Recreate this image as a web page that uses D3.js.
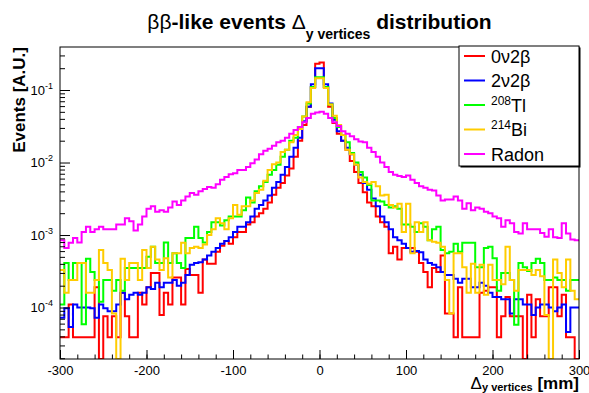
<!DOCTYPE html>
<html>
<head>
<meta charset="utf-8">
<script src="https://cdn.jsdelivr.net/npm/d3@7"></script>
<style>
  body { margin: 0; background: #fff; }
  svg { display: block; font-family: "Liberation Sans", Arial, Helvetica, sans-serif; }
</style>
</head>
<body>
<div id="chart"></div>
<script>
// ROOT-style log histogram: delta y between vertices, 120 bins of 5 mm

const binLow = -300, binWidth = 5;

// 0v2b (red)
const zeroNu = [
  3.9e-5, 3.9e-5, 1.1e-4, 3.9e-5, 3.9e-5, 3.9e-5, 3.9e-5, 3.9e-5, 1.9e-4, 0, 7.6e-5, 3.9e-5, 7.6e-5, 3.9e-5, 1.6e-4, 7.6e-5, 3.9e-5, 3.9e-5, 1.6e-4, 1.1e-4, 1.9e-4, 3.0e-4, 3.0e-4, 7.9e-5,
  1.6e-4, 1.1e-4, 2.6e-4, 2.6e-4, 1.1e-4, 3.4e-4, 2.8e-4, 2.8e-4, 1.6e-4, 4.6e-4, 4.0e-4, 4.0e-4, 5.9e-4, 7.1e-4, 8.3e-4, 7.6e-4, 9.3e-4, 1.1e-3, 1.1e-3, 1.4e-3, 1.5e-3, 1.8e-3, 2.0e-3, 2.3e-3,
  2.8e-3, 3.6e-3, 4.5e-3, 5.2e-3, 6.6e-3, 8.3e-3, 1.2e-2, 2.0e-2, 3.3e-2, 5.9e-2, 0.11, 0.23, 0.24, 0.11, 5.9e-2, 3.5e-2, 2.5e-2, 2.0e-2, 1.5e-2, 1.05e-2, 7.4e-3, 5.2e-3, 3.9e-3, 2.8e-3,
  2.5e-3, 1.8e-3, 1.5e-3, 1.3e-3, 5.6e-4, 6.9e-4, 4.6e-4, 6.6e-4, 6.6e-4, 6.6e-4, 5.9e-4, 4.1e-4, 3.1e-4, 1.9e-4, 3.5e-4, 3.1e-4, 5.2e-4, 8.3e-5, 8.3e-5, 3.9e-5, 1.9e-4, 3.9e-5, 3.9e-5, 3.9e-5,
  3.9e-5, 1.6e-4, 1.7e-4, 1.9e-4, 1.9e-4, 3.9e-5, 7.6e-5, 1.4e-4, 7.6e-5, 7.6e-5, 7.6e-5, 0, 1.5e-4, 3.9e-5, 1.3e-4, 7.6e-5, 7.6e-5, 1.9e-4, 1.9e-4, 7.6e-5, 1.5e-4, 3.9e-5, 3.9e-5, 0
];

// 2v2b (blue)
const twoNu = [
  7.2e-5, 9.8e-5, 5.4e-5, 1.1e-4, 1.0e-4, 1.0e-4, 1.0e-4, 9.8e-5, 7.2e-5, 1.1e-4, 9.8e-5, 8.9e-5, 8.9e-5, 1.1e-4, 1.6e-4, 1.3e-4, 1.5e-4, 1.6e-4, 1.5e-4, 1.6e-4, 1.9e-4, 1.8e-4, 2.2e-4, 1.9e-4,
  2.2e-4, 2.2e-4, 2.4e-4, 2.0e-4, 2.2e-4, 2.8e-4, 3.9e-4, 4.1e-4, 4.2e-4, 4.6e-4, 5.2e-4, 5.9e-4, 6.6e-4, 7.6e-4, 8.3e-4, 9.3e-4, 1.1e-3, 1.3e-3, 1.3e-3, 1.5e-3, 1.8e-3, 2.3e-3, 2.6e-3, 3.0e-3,
  3.5e-3, 4.5e-3, 5.4e-3, 6.8e-3, 8.7e-3, 1.2e-2, 1.6e-2, 2.2e-2, 3.7e-2, 5.9e-2, 0.12, 0.20, 0.20, 0.12, 6.5e-2, 3.9e-2, 2.7e-2, 2.0e-2, 1.6e-2, 1.3e-2, 9.3e-3, 6.8e-3, 5.2e-3, 4.2e-3,
  3.2e-3, 2.5e-3, 1.8e-3, 1.5e-3, 1.2e-3, 9.3e-4, 8.5e-4, 7.6e-4, 6.6e-4, 5.9e-4, 6.0e-4, 5.8e-4, 4.6e-4, 4.1e-4, 3.9e-4, 3.6e-4, 3.1e-4, 2.8e-4, 2.8e-4, 2.5e-4, 2.2e-4, 2.5e-4, 2.5e-4, 1.9e-4,
  1.9e-4, 2.2e-4, 2.0e-4, 1.6e-4, 1.4e-4, 1.4e-4, 1.3e-4, 1.3e-4, 8.3e-5, 1.3e-4, 1.3e-4, 1.1e-4, 1.1e-4, 7.9e-5, 1.0e-4, 1.1e-4, 1.1e-4, 1.0e-4, 8.9e-5, 1.0e-4, 1.1e-4, 4.6e-5, 1.0e-4, 1.0e-4
];

// 208Tl (green)
const tl208 = [
  1.1e-4, 4.1e-4, 2.4e-4, 4.1e-4, 4.1e-4, 5.9e-5, 4.7e-4, 3.1e-4, 2.4e-4, 1.2e-4, 2.4e-4, 2.4e-4, 1.7e-4, 2.4e-4, 1.7e-4, 3.5e-4, 3.5e-4, 3.5e-4, 3.5e-4, 3.5e-4, 5.0e-4, 6.9e-4, 4.1e-4, 4.1e-4,
  7.9e-4, 4.1e-4, 5.6e-4, 4.1e-4, 3.5e-4, 9.1e-4, 9.1e-4, 1.3e-3, 9.1e-4, 7.9e-4, 1.1e-3, 1.5e-3, 1.5e-3, 1.35e-3, 1.6e-3, 1.8e-3, 1.8e-3, 1.8e-3, 2.2e-3, 3.3e-3, 2.8e-3, 4.0e-3, 4.7e-3, 5.4e-3,
  6.8e-3, 7.9e-3, 9.3e-3, 1.2e-2, 1.5e-2, 2.0e-2, 2.2e-2, 3.1e-2, 4.3e-2, 6.5e-2, 0.11, 0.15, 0.15, 0.11, 6.3e-2, 4.1e-2, 3.1e-2, 2.4e-2, 1.9e-2, 1.35e-2, 1.0e-2, 7.4e-3, 6.2e-3, 4.9e-3,
  3.0e-3, 3.0e-3, 2.9e-3, 2.6e-3, 2.4e-3, 2.5e-3, 2.3e-3, 1.4e-3, 1.4e-3, 1.3e-3, 1.1e-3, 1.45e-3, 1.3e-3, 8.5e-4, 1.2e-3, 1.3e-3, 6.2e-4, 5.6e-4, 5.9e-4, 7.6e-4, 5.9e-4, 7.8e-4, 7.8e-4, 7.8e-4,
  3.6e-4, 3.6e-4, 6.6e-4, 6.9e-4, 4.8e-4, 1.7e-4, 3.0e-4, 3.0e-4, 2.4e-4, 5.8e-5, 4.1e-4, 3.6e-4, 3.2e-4, 4.1e-4, 4.7e-4, 4.1e-4, 2.4e-4, 2.4e-4, 2.6e-4, 2.4e-4, 2.4e-4, 1.7e-4, 2.4e-4, 2.4e-4
];

// 214Bi (yellow)
const bi214 = [
  3.3e-4, 1.6e-4, 2.4e-4, 2.4e-4, 4.1e-4, 4.1e-4, 1.6e-4, 1.6e-4, 2.4e-4, 6.2e-4, 4.1e-4, 3.3e-4, 8.3e-5, 0, 4.7e-4, 2.4e-4, 4.1e-4, 4.1e-4, 2.4e-4, 6.2e-4, 3.5e-4, 6.9e-4, 4.6e-4, 3.3e-4,
  4.8e-4, 2.6e-4, 5.6e-4, 5.6e-4, 7.8e-4, 5.6e-4, 6.6e-4, 6.9e-4, 6.6e-4, 7.4e-4, 1.0e-3, 1.2e-3, 1.7e-3, 1.45e-3, 1.2e-3, 1.7e-3, 2.6e-3, 1.9e-3, 2.5e-3, 2.5e-3, 3.0e-3, 3.8e-3, 4.2e-3, 5.6e-3,
  7.9e-3, 9.5e-3, 1.0e-2, 1.4e-2, 1.5e-2, 1.9e-2, 2.4e-2, 2.9e-2, 4.3e-2, 6.8e-2, 0.107, 0.145, 0.145, 0.107, 6.3e-2, 4.4e-2, 3.3e-2, 2.4e-2, 1.5e-2, 1.3e-2, 9.3e-3, 6.2e-3, 5.4e-3, 5.1e-3,
  5.4e-3, 4.7e-3, 3.5e-3, 3.6e-3, 2.6e-3, 2.4e-3, 2.7e-3, 1.1e-3, 2.7e-3, 5.6e-4, 1.5e-3, 1.1e-3, 1.5e-3, 8.5e-4, 8.1e-4, 7.8e-4, 6.9e-4, 2.4e-4, 8.3e-5, 5.6e-4, 5.6e-4, 3.6e-4, 1.6e-4, 4.0e-4,
  1.6e-4, 3.9e-4, 1.5e-4, 3.9e-4, 2.4e-4, 2.4e-4, 2.1e-4, 6.9e-4, 2.4e-4, 1.7e-4, 3.3e-4, 3.3e-4, 3.3e-4, 2.8e-4, 3.3e-4, 2.7e-4, 7.9e-5, 0, 4.6e-4, 3.0e-4, 1.9e-4, 4.6e-4, 1.7e-4, 1.3e-4
];

// Radon (magenta)
const radon = [
  8.5e-4, 6.6e-4, 7.8e-4, 9.1e-4, 7.9e-4, 1.1e-3, 1.3e-3, 1.1e-3, 1.2e-3, 1.3e-3, 1.2e-3, 1.2e-3, 1.2e-3, 1.4e-3, 1.4e-3, 1.7e-3, 1.55e-3, 1.15e-3, 1.4e-3, 1.8e-3, 2.3e-3, 2.5e-3, 2.1e-3, 2.2e-3,
  2.1e-3, 2.4e-3, 2.9e-3, 2.6e-3, 3.0e-3, 3.4e-3, 3.8e-3, 3.6e-3, 4.0e-3, 4.3e-3, 4.6e-3, 4.5e-3, 5.0e-3, 5.8e-3, 6.3e-3, 6.9e-3, 7.1e-3, 7.9e-3, 7.9e-3, 8.7e-3, 9.8e-3, 1.1e-2, 1.3e-2, 1.45e-2,
  1.55e-2, 1.7e-2, 1.9e-2, 2.0e-2, 2.2e-2, 2.5e-2, 2.8e-2, 3.1e-2, 3.6e-2, 4.1e-2, 4.7e-2, 4.9e-2, 5.0e-2, 4.7e-2, 4.1e-2, 3.6e-2, 3.2e-2, 2.7e-2, 2.5e-2, 2.3e-2, 2.1e-2, 1.95e-2, 1.9e-2, 1.6e-2,
  1.4e-2, 1.2e-2, 1.0e-2, 8.7e-3, 7.4e-3, 6.8e-3, 6.5e-3, 6.3e-3, 6.6e-3, 5.8e-3, 5.2e-3, 4.7e-3, 4.5e-3, 4.2e-3, 4.1e-3, 3.5e-3, 3.0e-3, 3.1e-3, 3.1e-3, 3.4e-3, 3.0e-3, 2.3e-3, 2.75e-3, 2.2e-3,
  2.4e-3, 2.3e-3, 2.1e-3, 2.0e-3, 1.8e-3, 1.7e-3, 1.3e-3, 1.6e-3, 1.45e-3, 1.1e-3, 1.05e-3, 1.45e-3, 1.2e-3, 1.2e-3, 1.2e-3, 1.07e-3, 9.5e-4, 1.2e-3, 9.3e-4, 9.1e-4, 1.45e-3, 1.05e-3, 8.7e-4, 8.5e-4
];

const xTicks = [-300, -200, -100, 0, 100, 200, 300];
const yTicks = [1e-4, 1e-3, 1e-2, 1e-1];

const series = [
  {name: "0v2b", values: zeroNu, color: "#ff0000"},
  {name: "2v2b", values: twoNu, color: "#0000ff"},
  {name: "208Tl", values: tl208, color: "#00ff00"},
  {name: "214Bi", values: bi214, color: "#ffcc00"},
  {name: "Radon", values: radon, color: "#ff00ff"}
];

const W = 589, H = 393;
const frame = {left: 60, right: 579, top: 47, bottom: 359};
const yMin = 1.95e-5, yMax = 0.392;

const svg = d3.select("#chart").append("svg")
  .attr("width", W).attr("height", H);

const x = d3.scaleLinear().domain([-300, 300]).range([frame.left, frame.right]);
const y = d3.scaleLog().domain([yMin, yMax]).range([frame.bottom, frame.top]);

svg.append("clipPath").attr("id", "clip")
  .append("rect")
  .attr("x", frame.left).attr("y", frame.top)
  .attr("width", frame.right - frame.left).attr("height", frame.bottom - frame.top);

// histograms as step lines
const step = d3.line()
  .x(d => x(d[0]))
  .y(d => d[1] > 0 ? y(Math.max(d[1], yMin)) : frame.bottom)
  .curve(d3.curveStepAfter);

const hg = svg.append("g").attr("clip-path", "url(#clip)");
series.forEach(s => {
  const pts = s.values.map((v, i) => [binLow + i * binWidth, v]);
  pts.push([binLow + s.values.length * binWidth, s.values[s.values.length - 1]]);
  hg.append("path")
    .attr("d", step(pts))
    .attr("fill", "none")
    .attr("stroke", s.color)
    .attr("stroke-width", 2);
});

// x axis, ticks point into the frame
svg.append("g")
  .attr("transform", `translate(0,${frame.bottom})`)
  .call(d3.axisBottom(x).tickValues(d3.range(-300, 301, 20)).tickSize(-4.5).tickFormat(""));
const xAxis = svg.append("g")
  .attr("transform", `translate(0,${frame.bottom})`)
  .call(d3.axisBottom(x).tickValues(xTicks).tickSize(-9).tickPadding(7).tickFormat(d => String(d)));
xAxis.selectAll("text").attr("font-size", 13).attr("fill", "#000")
  .style("font-family", "'Liberation Sans', Arial, sans-serif");

// y axis (log)
const yMinorVals = [];
for (let e = -5; e <= -1; e++) {
  for (let k = 2; k <= 9; k++) {
    const v = k * Math.pow(10, e);
    if (v >= yMin && v <= yMax) yMinorVals.push(v);
  }
}
svg.append("g")
  .attr("transform", `translate(${frame.left},0)`)
  .call(d3.axisLeft(y).tickValues(yMinorVals).tickSize(-5).tickFormat(""));
const yAxis = svg.append("g")
  .attr("transform", `translate(${frame.left},0)`)
  .call(d3.axisLeft(y).tickValues(yTicks).tickSize(-10).tickPadding(7));
yAxis.selectAll(".tick text").each(function(d) {
  const t = d3.select(this);
  t.text(null).attr("font-size", 13).attr("fill", "#000")
    .style("font-family", "'Liberation Sans', Arial, sans-serif");
  t.append("tspan").text("10");
  t.append("tspan").attr("font-size", 9).attr("dy", -6).text("-" + Math.round(-Math.log10(d)));
});

svg.selectAll(".domain").remove();
svg.selectAll(".tick line").attr("stroke", "#000").attr("stroke-width", 1);

// frame
svg.append("rect")
  .attr("x", frame.left).attr("y", frame.top)
  .attr("width", frame.right - frame.left).attr("height", frame.bottom - frame.top)
  .attr("fill", "none").attr("stroke", "#000").attr("stroke-width", 1);

// title
const title = svg.append("text")
  .attr("x", (frame.left + frame.right) / 2).attr("y", 29)
  .attr("text-anchor", "middle").attr("font-weight", "bold").attr("font-size", 21);
title.append("tspan").attr("font-weight", "normal").text("\u03b2\u03b2");
title.append("tspan").text("-like events ");
title.append("tspan").attr("font-weight", "normal").text("\u0394");
title.append("tspan").attr("font-size", 14).attr("dy", 10).text("y vertices");
title.append("tspan").attr("dy", -10).text(" distribution");

// axis titles
const xt = svg.append("text")
  .attr("x", frame.right).attr("y", 389)
  .attr("text-anchor", "end").attr("font-weight", "bold").attr("font-size", 17);
xt.append("tspan").attr("font-weight", "normal").text("\u0394");
xt.append("tspan").attr("font-size", 11).attr("dy", 2).text("y vertices");
xt.append("tspan").attr("dy", -2).text(" [mm]");

svg.append("text")
  .attr("transform", `translate(25,${frame.top}) rotate(-90)`)
  .attr("text-anchor", "end").attr("font-weight", "bold").attr("font-size", 17)
  .text("Events [A.U.]");

// legend
const lg = {x: 459, y: 46, w: 120, h: 120};
svg.append("rect")
  .attr("x", lg.x + 1.5).attr("y", lg.y + 1.5).attr("width", lg.w).attr("height", lg.h)
  .attr("fill", "#000");
svg.append("rect")
  .attr("x", lg.x).attr("y", lg.y).attr("width", lg.w).attr("height", lg.h)
  .attr("fill", "#fff").attr("stroke", "#000").attr("stroke-width", 1);

const legendLabels = [
  [{t: "0\u03bd2\u03b2"}],
  [{t: "2\u03bd2\u03b2"}],
  [{t: "208", sup: true}, {t: "Tl"}],
  [{t: "214", sup: true}, {t: "Bi"}],
  [{t: "Radon"}]
];
series.forEach((s, i) => {
  const cy = 56 + i * 24.5;
  svg.append("line")
    .attr("x1", 464).attr("x2", 485).attr("y1", cy).attr("y2", cy)
    .attr("stroke", s.color).attr("stroke-width", 2);
  const t = svg.append("text").attr("x", 491).attr("y", cy + 6.5).attr("font-size", 18);
  legendLabels[i].forEach(p => {
    if (p.sup) t.append("tspan").attr("font-size", 12).attr("dy", -7).text(p.t);
    else t.append("tspan").attr("dy", legendLabels[i].length > 1 ? 7 : 0).text(p.t);
  });
});
</script>
</body>
</html>
